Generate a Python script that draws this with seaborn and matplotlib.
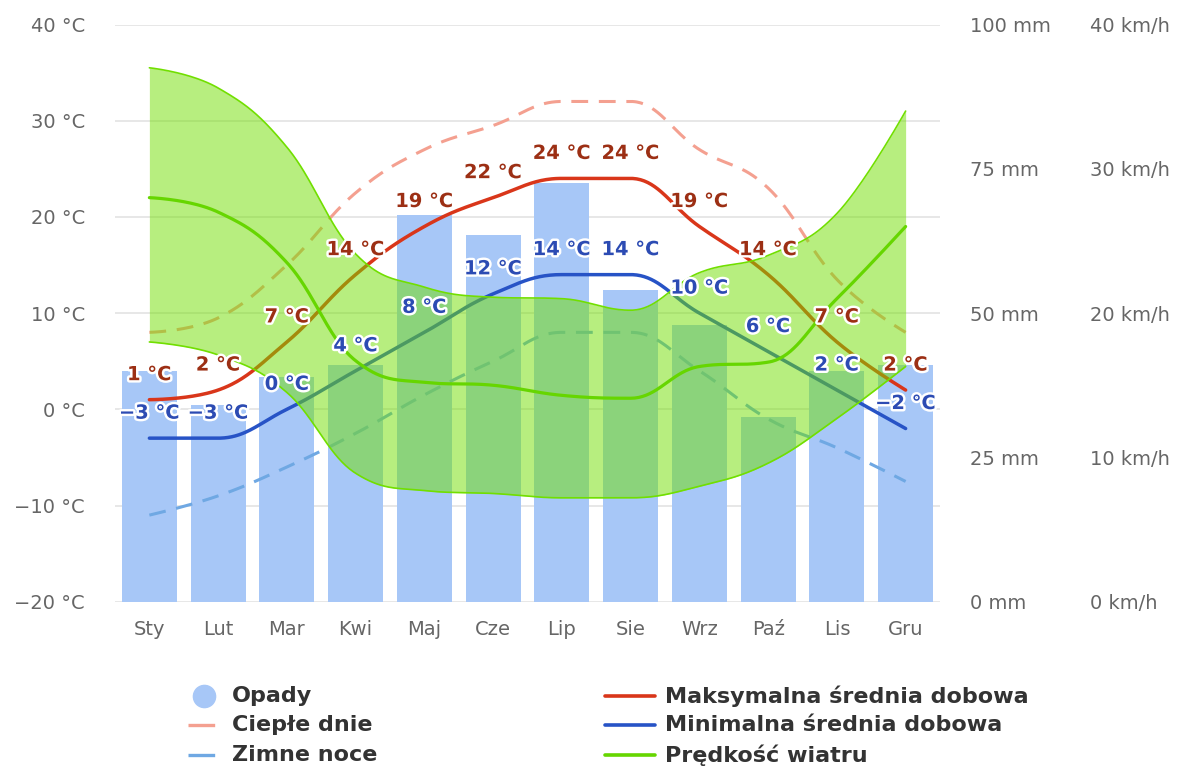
import numpy as np
import matplotlib
matplotlib.use("Agg")
import matplotlib.pyplot as plt
from matplotlib.lines import Line2D
import matplotlib.patheffects as pe
import seaborn as sns
import pandas as pd

# ---------------- data ----------------
months = ["Sty", "Lut", "Mar", "Kwi", "Maj", "Cze", "Lip", "Sie", "Wrz", "Paź", "Lis", "Gru"]
precip = [40, 34, 39, 41, 67, 63.5, 72.5, 54, 48, 32, 40, 41]          # mm
t_max = [1, 2, 7, 14, 19, 22, 24, 24, 19, 14, 7, 2]                   # °C
t_min = [-3, -3, 0, 4, 8, 12, 14, 14, 10, 6, 2, -2]                   # °C
warm_days = [8, 9.5, 15, 22.5, 27, 29.5, 32, 32, 27, 23, 13.5, 8]     # °C
cold_nights = [-11, -9, -6, -2.5, 1.5, 5, 8, 8, 4, -1, -4, -7.5]      # °C
wind = [28, 27, 23.5, 16.7, 15.2, 15, 14.3, 14.1, 16.3, 16.6, 21, 26]  # km/h
wind_hi = [37, 35.6, 31.5, 24.1, 21.8, 21.1, 21, 20.2, 22.8, 24, 26.9, 34]
wind_lo = [18, 17.1, 14.5, 8.9, 7.7, 7.5, 7.2, 7.2, 8, 9.6, 12.7, 16.3]
temp_ticks = [-20, -10, 0, 10, 20, 30, 40]
mm_ticks = [0, 25, 50, 75, 100]
kmh_ticks = [0, 10, 20, 30, 40]

# ---------------- style ----------------
sns.set_theme(style="white")
plt.rcParams["font.family"] = ["DejaVu Sans"]

C_BAR = "#a7c7f7"
C_GREEN = "#71df00"
C_WINDLINE = "#66d600"
C_MAX = "#d9361a"
C_MIN = "#2753c6"
C_WARM = "#f4a090"
C_COLD = "#6fa8e3"
C_LMAX = "#9c2f14"
C_LMIN = "#2c4bb3"
C_TICK = "#666666"


def hc_spline(vals, n=40):
    """Highcharts-style spline rendering of a series (x = category index)."""
    y = np.asarray(vals, dtype=float)
    x = np.arange(len(y), dtype=float)
    N = len(y)
    s = 1.5
    d = s + 1
    lc = {}
    rc = {}
    for i in range(1, N - 1):
        lx, ly = x[i - 1], y[i - 1]
        px, py = x[i], y[i]
        nx, ny = x[i + 1], y[i + 1]
        lcx = (s * px + lx) / d
        lcy = (s * py + ly) / d
        rcx = (s * px + nx) / d
        rcy = (s * py + ny) / d
        if rcx != lcx:
            corr = ((rcy - lcy) * (rcx - px)) / (rcx - lcx) + py - rcy
            lcy += corr
            rcy += corr
        if lcy > ly and lcy > py:
            lcy = max(ly, py)
            rcy = 2 * py - lcy
        elif lcy < ly and lcy < py:
            lcy = min(ly, py)
            rcy = 2 * py - lcy
        if rcy > ny and rcy > py:
            rcy = max(ny, py)
            lcy = 2 * py - rcy
        elif rcy < ny and rcy < py:
            rcy = min(ny, py)
            lcy = 2 * py - rcy
        lc[i] = (lcx, lcy)
        rc[i] = (rcx, rcy)
    xs, ys = [x[0]], [y[0]]
    t = np.linspace(0, 1, n)[1:]
    for i in range(1, N):
        p0 = np.array([x[i - 1], y[i - 1]])
        p3 = np.array([x[i], y[i]])
        p1 = np.array(rc.get(i - 1, tuple(p0)))
        p2 = np.array(lc.get(i, tuple(p3)))
        b = ((1 - t) ** 3)[:, None] * p0 + (3 * (1 - t) ** 2 * t)[:, None] * p1 \
            + (3 * (1 - t) * t ** 2)[:, None] * p2 + (t ** 3)[:, None] * p3
        xs.extend(b[:, 0])
        ys.extend(b[:, 1])
    return np.array(xs), np.array(ys)


W, H = 1189, 769
fig = plt.figure(figsize=(W / 100, H / 100), dpi=100)
L, R, T, B = 115, 940, 24.5, 601.7
ax = fig.add_axes([L / W, 1 - B / H, (R - L) / W, (B - T) / H])
ax2 = ax.twinx()   # precipitation
ax4 = ax.twinx()   # temperature lines
ax3 = ax.twinx()   # wind

ax.set_zorder(1)
ax2.set_zorder(2)
ax4.set_zorder(3)
ax3.set_zorder(4)
for a in (ax2, ax3, ax4):
    a.patch.set_visible(False)

# --- bars (precipitation) ---
df = pd.DataFrame({"month": months, "precip": precip})
sns.barplot(data=df, x="month", y="precip", ax=ax2, color=C_BAR, saturation=1,
            width=0.8, linewidth=0, zorder=1)
ax2.set_ylim(0, 100)
ax2.set_yticks(mm_ticks)
ax2.set_yticklabels([f"{v} mm" for v in mm_ticks])
ax2.set_ylabel("")
ax2.tick_params(axis="y", length=0, pad=21.6, labelsize=14, labelcolor=C_TICK)

# --- temperature grid / axis ---
ax.set_ylim(-20, 40)
ax.set_yticks(temp_ticks)
ax.set_yticklabels([f"{v} °C".replace("-", "\u2212") for v in temp_ticks])
ax.tick_params(axis="y", length=0, pad=21.6, labelsize=14, labelcolor=C_TICK)
ax.grid(axis="y", color="#e3e3e3", linewidth=1.2)
ax.grid(axis="x", visible=False)
ax.set_xlim(-0.5, 11.5)
ax.set_xticks(range(12))
ax.set_xticklabels(months)
ax.tick_params(axis="x", length=0, pad=13, labelsize=14, labelcolor=C_TICK)
ax.set_xlabel("")

# --- temperature lines ---
ax4.set_ylim(-20, 40)
ax4.set_yticks([])
for vals, col, ls, lw in [
    (warm_days, C_WARM, (0, (5.5, 3.5)), 2.2),
    (cold_nights, C_COLD, (0, (5.5, 3.5)), 2.2),
    (t_max, C_MAX, "-", 2.5),
    (t_min, C_MIN, "-", 2.5),
]:
    sx, sy = hc_spline(vals)
    sns.lineplot(x=sx, y=sy, ax=ax4, sort=False, estimator=None, color=col,
                 linewidth=lw, linestyle=ls, solid_capstyle="round")

# --- wind band + line ---
ax3.set_ylim(0, 40)
ax3.set_yticks(kmh_ticks)
ax3.set_yticklabels([f"{v} km/h" for v in kmh_ticks])
ax3.tick_params(axis="y", length=0, pad=108, labelsize=14, labelcolor=C_TICK)
hx, hy = hc_spline(wind_hi)
lx_, ly_ = hc_spline(wind_lo)
ax3.fill_between(hx, ly_, hy, color=C_GREEN, alpha=0.5, linewidth=0, zorder=1)
ax3.plot(hx, hy, color=C_GREEN, linewidth=1.2, zorder=2)
ax3.plot(lx_, ly_, color=C_GREEN, linewidth=1.2, zorder=2)
wx, wy = hc_spline(wind)
sns.lineplot(x=wx, y=wy, ax=ax3, sort=False, estimator=None, color=C_WINDLINE,
             linewidth=2.3, zorder=3)
ax3.set_xlim(-0.5, 11.5)

for a in (ax, ax2, ax3, ax4):
    for sp in a.spines.values():
        sp.set_visible(False)
    a.set_ylabel("")
    a.set_xlabel("")

# --- data labels ---
stroke = [pe.withStroke(linewidth=3.5, foreground="white")]
for vals, col in [(t_max, C_LMAX), (t_min, C_LMIN)]:
    for i, v in enumerate(vals):
        ax3.annotate(f"{v} °C".replace("-", "\u2212"), xy=(i, v), xycoords=ax4.transData,
                     xytext=(0, 18), textcoords="offset points", ha="center", va="center",
                     fontsize=14, fontweight="bold", color=col, path_effects=stroke,
                     zorder=10, annotation_clip=False)

# --- legend (manual) ---
def fx(px):
    return px / W


def fy(py):
    return 1 - py / H


rows = [696, 725, 755]
fig.add_artist(Line2D([fx(204)], [fy(rows[0])], marker="o", markersize=16,
                      color=C_BAR, linestyle="none", transform=fig.transFigure))
for py, col in [(rows[1], C_WARM), (rows[2], C_COLD)]:
    fig.add_artist(Line2D([fx(188), fx(219)], [fy(py)] * 2, color=col, lw=2.4,
                          linestyle=(0, (8, 2.8, 1.6, 20)), solid_capstyle="butt",
                          dash_capstyle="butt", transform=fig.transFigure))
for py, col in zip(rows, [C_MAX, C_MIN, C_WINDLINE]):
    fig.add_artist(Line2D([fx(605), fx(655)], [fy(py)] * 2, color=col, lw=2.6,
                          transform=fig.transFigure))
for txt, px, py in [("Opady", 232, rows[0]), ("Ciepłe dnie", 232, rows[1]),
                    ("Zimne noce", 232, rows[2]),
                    ("Maksymalna średnia dobowa", 665, rows[0]),
                    ("Minimalna średnia dobowa", 665, rows[1]),
                    ("Prędkość wiatru", 665, rows[2])]:
    fig.text(fx(px), fy(py), txt, ha="left", va="center", fontsize=16,
             fontweight="bold", color="#333333")

fig.savefig("out.png", dpi=100, facecolor="white")
